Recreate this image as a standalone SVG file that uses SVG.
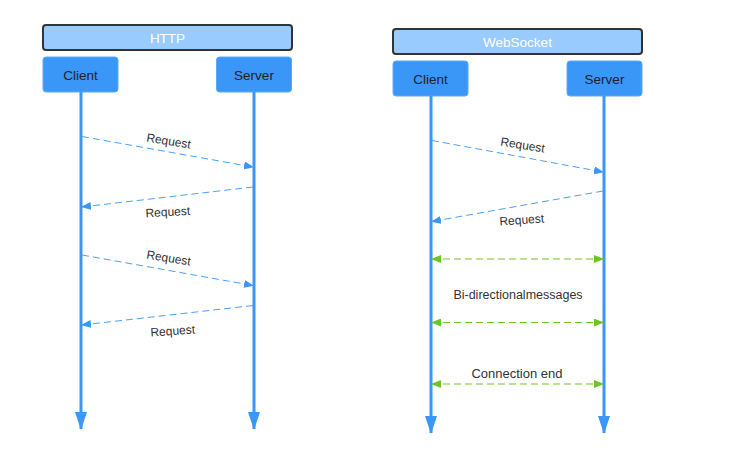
<svg xmlns="http://www.w3.org/2000/svg" width="729" height="457" viewBox="0 0 729 457">
<style>
.hdr{fill:#99cbff;stroke:#333;stroke-width:2}
.hdrt{fill:#fff;font-family:"Liberation Sans",Arial,sans-serif;font-size:13.5px;text-anchor:middle}
.box{fill:#3a97f8;stroke:#5aaaff;stroke-width:1}
.boxt{fill:#222;font-family:"Liberation Sans",Arial,sans-serif;font-size:13.5px;text-anchor:middle}
.life{stroke:#3a97f8;stroke-width:3;fill:none}
.msg{stroke:#4aa0fa;stroke-width:1;stroke-dasharray:7,4;fill:none}
.grn{stroke:#6cc820;stroke-width:1.2;stroke-dasharray:7,4;fill:none}
.lbl{fill:#333;font-family:"Liberation Sans",Arial,sans-serif;font-size:12px;text-anchor:middle}
</style>
<defs>
<marker id="life" markerUnits="userSpaceOnUse" markerWidth="18" markerHeight="12" refX="17" refY="6" orient="auto" viewBox="0 0 18 12">
<path d="M0,0 L18,6 L0,12 Z" fill="#3a97f8"/>
</marker>
<marker id="ab" markerUnits="userSpaceOnUse" markerWidth="10" markerHeight="8" refX="9" refY="4" orient="auto" viewBox="0 0 10 8">
<path d="M0,0 L10,4 L0,8 Z" fill="#3a97f8"/>
</marker>
<marker id="ag" markerUnits="userSpaceOnUse" markerWidth="10" markerHeight="8" refX="9" refY="4" orient="auto-start-reverse" viewBox="0 0 10 8">
<path d="M0,0 L10,4 L0,8 Z" fill="#6cc820"/>
</marker>
</defs>

<g id="http-header"><rect class="hdr" x="43" y="25" width="249" height="25" rx="3"/><text class="hdrt" x="167.5" y="42.5">HTTP</text></g>
<g id="http-client"><rect class="box" x="43" y="57" width="75" height="35" rx="3"/><text class="boxt" x="80.5" y="79.5">Client</text></g>
<g id="http-server"><rect class="box" x="216.5" y="57" width="75" height="35" rx="3"/><text class="boxt" x="254" y="79.5">Server</text></g>

<g id="ws-header"><rect class="hdr" x="393" y="29" width="249" height="25" rx="3"/><text class="hdrt" x="517.5" y="46.5">WebSocket</text></g>
<g id="ws-client"><rect class="box" x="393" y="61" width="75" height="35" rx="3"/><text class="boxt" x="430.5" y="83.5">Client</text></g>
<g id="ws-server"><rect class="box" x="567" y="61" width="75" height="35" rx="3"/><text class="boxt" x="604.5" y="83.5">Server</text></g>

<g id="connectors">
<line class="life" x1="81" y1="92" x2="81" y2="429" marker-end="url(#life)"/>
<line class="life" x1="254" y1="92" x2="254" y2="429" marker-end="url(#life)"/>
<line class="life" x1="431" y1="96" x2="431" y2="433" marker-end="url(#life)"/>
<line class="life" x1="604" y1="96" x2="604" y2="433" marker-end="url(#life)"/>

<line class="msg" x1="82" y1="136.5" x2="253" y2="167" marker-end="url(#ab)"/>
<line class="msg" x1="253" y1="187" x2="82" y2="207" marker-end="url(#ab)"/>
<line class="msg" x1="82" y1="255" x2="253" y2="285.5" marker-end="url(#ab)"/>
<line class="msg" x1="253" y1="305.5" x2="82" y2="325" marker-end="url(#ab)"/>

<line class="msg" x1="432" y1="140.5" x2="603" y2="172" marker-end="url(#ab)"/>
<line class="msg" x1="603" y1="191" x2="432" y2="221.5" marker-end="url(#ab)"/>

<line class="grn" x1="432" y1="259" x2="603" y2="259" marker-start="url(#ag)" marker-end="url(#ag)"/>
<line class="grn" x1="432" y1="322.5" x2="603" y2="322.5" marker-start="url(#ag)" marker-end="url(#ag)"/>
<line class="grn" x1="432" y1="384" x2="603" y2="384" marker-start="url(#ag)" marker-end="url(#ag)"/>

<text class="lbl" transform="translate(168,145) rotate(9)">Request</text>
<text class="lbl" transform="translate(168,216) rotate(-3)">Request</text>
<text class="lbl" transform="translate(168,262) rotate(9)">Request</text>
<text class="lbl" transform="translate(173,335) rotate(-4)">Request</text>
<text class="lbl" transform="translate(522,149) rotate(9)">Request</text>
<text class="lbl" transform="translate(522,224) rotate(-4)">Request</text>
<text class="lbl" x="518" y="299" style="font-size:12.5px">Bi-directionalmessages</text>
<text class="lbl" x="517" y="378" style="font-size:13px">Connection end</text>
</g>
</svg>
